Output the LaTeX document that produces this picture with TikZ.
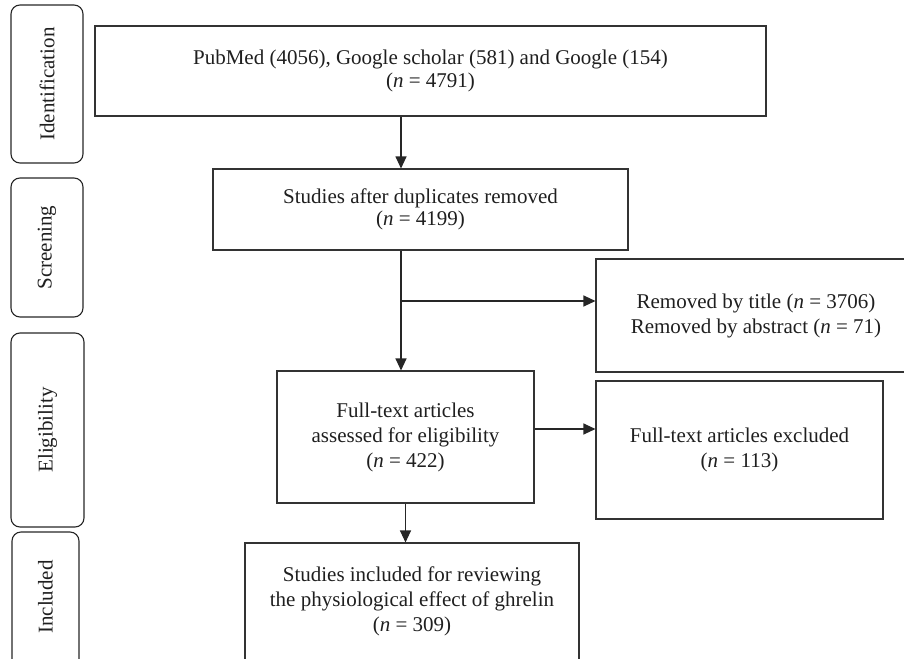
\documentclass[tikz,border=0pt]{standalone}
\usepackage{fontspec}
\setmainfont{Liberation Serif}
\usetikzlibrary{arrows.meta,positioning}

\tikzset{
  box/.style={draw=black!80, line width=1.1pt, inner sep=0pt, align=center,
    text=black!88, font=\fontsize{21}{25}\selectfont},
  tightbox/.style={box, font=\fontsize{21}{22.5}\selectfont},
  plain/.style={inner sep=0pt, align=center, text=black!88, font=\fontsize{21}{25}\selectfont},
  stage/.style={draw=black!85, line width=1.1pt, rounded corners=9pt, rotate=90,
    inner sep=0pt, text=black!88, font=\fontsize{21}{25}\selectfont},
  arr/.style={-{Triangle[length=12pt,width=11pt]}, line width=1.1pt, draw=black!85}
}

\begin{document}
\begin{tikzpicture}[x=1pt,y=-1pt]
\useasboundingbox (0,0) rectangle (904,658);
% stage labels on the left
\node[stage, minimum width=158, minimum height=72] (sid) at (47,84) {Identification};
\node[stage, minimum width=139, minimum height=72] (sscr) at (47,247.5) {Screening};
\node[stage, minimum width=194, minimum height=73] (selig) at (47.5,430) {Eligibility};
\node[stage, minimum width=150, minimum height=67] (sinc) at (45.5,607) {};
\node[plain, rotate=90] (sinctxt) at (45.5,597) {Included};
% flow boxes
\node[tightbox, minimum width=671, minimum height=90] (ident) at (430.5,71)
  {PubMed (4056), Google scholar (581) and Google (154)\\(\textit{n} = 4791)};
\node[tightbox, minimum width=415, minimum height=81] (dup) at (420.5,209.5)
  {Studies after duplicates removed\\(\textit{n} = 4199)};
\node[box, minimum width=320, minimum height=113] (removed) at (756,315.5)
  {Removed by title (\textit{n} = 3706)\\Removed by abstract (\textit{n} = 71)};
\node[box, minimum width=257, minimum height=132] (elig) at (405.5,437)
  {Full-text articles\\assessed for eligibility\\(\textit{n} = 422)};
\node[box, minimum width=287, minimum height=138] (excl) at (739.5,450)
  {Full-text articles excluded\\(\textit{n} = 113)};
\node[box, minimum width=334, minimum height=140] (incl) at (412,613) {};
\node[plain] (incltxt) at (412,601)
  {Studies included for reviewing\\the physiological effect of ghrelin\\(\textit{n} = 309)};
% connectors
\coordinate (trunk) at (401,301);
\draw[arr] (ident.south -| trunk) -- (dup.north -| trunk);
\draw[arr] (dup.south -| trunk) -- (elig.north -| trunk);
\draw[arr] (trunk) -- (removed.west |- trunk);
\draw[arr] ([yshift=8pt]elig.east) -- ([yshift=8pt]elig.east -| excl.west);
\draw[arr] (elig.south) -- (incl.north -| elig.south);
\end{tikzpicture}
\end{document}
